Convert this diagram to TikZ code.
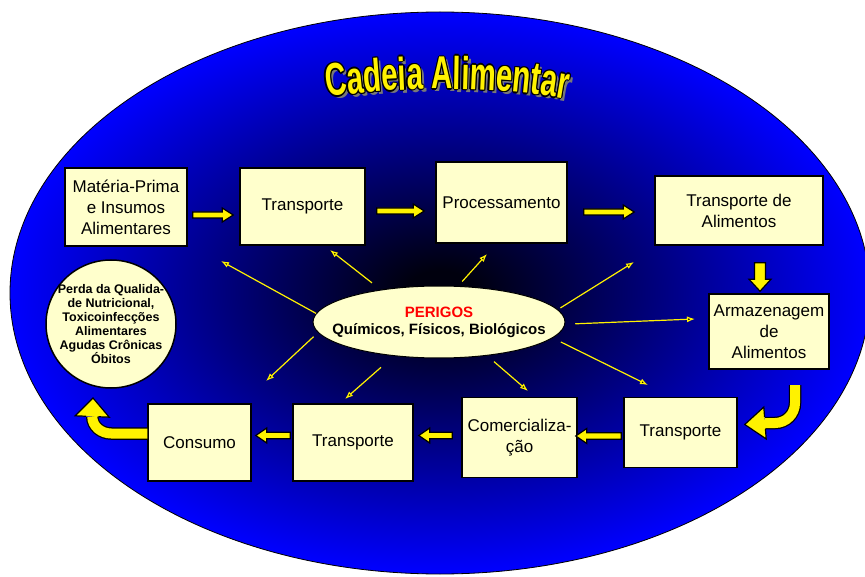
\documentclass[tikz,border=0pt]{standalone}
\usepackage{fontspec}
\setmainfont{Liberation Sans}
\newfontfamily\titlefont[FakeStretch=0.64]{Liberation Sans}
\usetikzlibrary{shapes.geometric}
\usetikzlibrary{arrows.meta,calc}
\usetikzlibrary{decorations.text}

\definecolor{cream}{RGB}{255,255,204}
\definecolor{navydark}{RGB}{0,0,14}
\definecolor{bowlblue}{RGB}{0,0,255}
\definecolor{shadowgray}{RGB}{120,120,120}
\pgfdeclareradialshading{bowl}{\pgfpoint{0bp}{0bp}}{color(0bp)=(navydark); color(2bp)=(navydark); color(25bp)=(bowlblue); color(50bp)=(bowlblue)}

% fat yellow arrow: tail, tip, half shaft, half head, head length
\newcommand\flowarrow[5]{%
  \coordinate (fa-base) at ($(#2)!#5!(#1)$);
  \filldraw [flowbody] ($(#1)!#3!90:(#2)$) -- ($(fa-base)!#3!90:(#2)$) -- ($(fa-base)!#4!90:(#2)$) -- (#2)
    -- ($(fa-base)!#4!-90:(#2)$) -- ($(fa-base)!#3!-90:(#2)$) -- ($(#1)!#3!-90:(#2)$) -- cycle;}
% head only, for the bent ones: base, tip, half shaft, half head
\newcommand\flowhead[4]{%
  \fill [yellow] ($(#1)!#3!90:(#2)$) -- ($(#1)!#4!90:(#2)$) -- (#2) -- ($(#1)!#4!-90:(#2)$) -- ($(#1)!#3!-90:(#2)$) -- cycle;
  \draw [black, line width=1.2pt, line join=miter] ($(#1)!#3!90:(#2)$) -- ($(#1)!#4!90:(#2)$) -- (#2) -- ($(#1)!#4!-90:(#2)$) -- ($(#1)!#3!-90:(#2)$);}

\begin{document}
\begin{tikzpicture}
[x=1pt,y=-1pt,
block/.style ={rectangle, draw=black, line width=1.5pt, fill=cream,
inner sep=2pt, align=center, font=\fontsize{17}{21}\selectfont},
hazardzone/.style ={ellipse, draw=black, line width=1pt, fill=cream,
inner xsep=-30pt, inner ysep=0pt, align=center,
minimum width=252pt, minimum height=72pt,
font=\bfseries\fontsize{15}{17}\selectfont},
losses/.style ={ellipse, draw=black, line width=1.5pt, fill=cream,
inner xsep=-10pt, inner ysep=0pt, align=center,
minimum width=130pt, minimum height=128pt,
font=\bfseries\fontsize{12.5}{14}\selectfont},
flowbody/.style ={fill=yellow, draw=black, line width=1.2pt, line join=miter},
flowedge/.style ={draw=yellow, line width=10pt,
preaction={draw=black, line width=12.5pt}},
hazardline/.style ={draw=yellow, line width=1.2pt,
-{Latex[length=8pt,width=6pt]}},
titletext/.style ={decorate, decoration={text along path, text align=center,
text color=#1,
text={|\titlefont\bfseries\fontsize{46}{46}\selectfont|Cadeia Alimentar}}}]
\useasboundingbox (0,0) rectangle (865,577);

% the bowl and the title
\shade [shading=bowl] (440,293) ellipse [x radius=430, y radius=281];
\draw [black, line width=0.8pt] (440,293) ellipse [x radius=430, y radius=281];
\path [titletext=shadowgray, shift={(3,3)}] (327,97) .. controls (400,86) and (495,86) .. (567,99);
\foreach \dx/\dy in {-1.3/0,1.3/0,0/-1.3,0/1.3,-0.9/-0.9,0.9/0.9,-0.9/0.9,0.9/-0.9}
  \path [titletext=black, shift={(\dx,\dy)}] (327,97) .. controls (400,86) and (495,86) .. (567,99);
\path [titletext=yellow] (327,97) .. controls (400,86) and (495,86) .. (567,99);

% top row
\node [block, minimum width=122pt, minimum height=78pt] (mp) at (126,207) {Matéria-Prima\\e Insumos\\Alimentares};
\node [block, minimum width=125pt, minimum height=77pt] (tr1) at (302.5,206.5) {Transporte};
\node [block, minimum width=131pt, minimum height=81pt] (proc) at (501.5,202.5) {Processamento};
\node [block, minimum width=168pt, minimum height=69pt] (tral) at (739,210.5) {Transporte de\\Alimentos};
% right side
\node [block, minimum width=120pt, minimum height=75pt] (arm) at (769,331.5) {Armazenagem\\de\\Alimentos};
% bottom row
\node [block, minimum width=113pt, minimum height=70pt] (tr2) at (680.5,432.5) {Transporte};
\node [block, minimum width=115pt, minimum height=80pt] (com) at (519.5,437.5) {Comercializa-\\ção};
\node [block, minimum width=120pt, minimum height=77pt] (tr3) at (353,442.5) {Transporte};
\node [block, minimum width=103pt, minimum height=77pt] (cons) at (199.5,442.5) {Consumo};
% middle
\node [losses] (loss) at (111,324) {Perda da Qualida-\\de Nutricional,\\Toxicoinfecções\\Alimentares\\Agudas Crônicas\\Óbitos};
\node [hazardzone] (perigos) at (439,322) {\textcolor{red}{PERIGOS}\\Químicos, Físicos, Biológicos};

% the chain
\coordinate (a1s) at ([xshift=5pt,yshift=-8pt]mp.east);
\coordinate (a1e) at ([xshift=-6pt]a1s -| tr1.west);
\coordinate (a2s) at ([xshift=11pt,yshift=-4.5pt]tr1.east);
\coordinate (a2e) at ([xshift=-11pt]a2s -| proc.west);
\coordinate (a3s) at ([xshift=16pt,yshift=-9.5pt]proc.east);
\coordinate (a3e) at ([xshift=-20pt]a3s -| tral.west);
\coordinate (a4s) at ([xshift=21pt,yshift=-17pt]tral.south);
\coordinate (a4e) at ([yshift=2pt]a4s |- arm.north);
\coordinate (a5s) at ([xshift=-2pt,yshift=-3.5pt]tr2.west);
\coordinate (a5e) at ([xshift=-2pt]a5s -| com.east);
\coordinate (a6s) at ([xshift=-9pt,yshift=2pt]com.west);
\coordinate (a6e) at ([xshift=5pt]a6s -| tr3.east);
\coordinate (a7s) at ([xshift=-2pt,yshift=7pt]tr3.west);
\coordinate (a7e) at ([xshift=4pt]a7s -| cons.east);
\flowarrow{a1s}{a1e}{3pt}{7pt}{11pt}
\flowarrow{a2s}{a2e}{3pt}{7pt}{11pt}
\flowarrow{a3s}{a3e}{3pt}{7pt}{11pt}
\flowarrow{a4s}{a4e}{5.5pt}{11pt}{12pt}
\flowarrow{a5s}{a5e}{3.2pt}{7.5pt}{11pt}
\flowarrow{a6s}{a6e}{3.2pt}{7.5pt}{11pt}
\flowarrow{a7s}{a7e}{3.2pt}{7.5pt}{11pt}

% bent arrows
\coordinate (turnA) at (795,385);
\coordinate (turnAtip) at ([xshift=7pt,yshift=8pt]tr2.east);
\path [flowedge] (turnA) -- ++(0,18) to [out=-90,in=0] ++(-20,20) -- ++(-10,0) coordinate (turnAbase);
\flowhead{turnAbase}{turnAtip}{6.2pt}{16pt}
\coordinate (turnB) at (93,398);
\path [flowedge] ([yshift=9pt]cons.west) -- ++(-36,0) to [out=180,in=-90] ++(-19,-17) coordinate (turnBbase);
\flowhead{turnBbase}{turnB}{6.2pt}{17pt}

% hazards
\coordinate (h1) at (221,261);
\coordinate (h2) at (330,250);
\coordinate (h3) at (487,254);
\coordinate (h4) at (634,262);
\coordinate (h5) at (695,319);
\coordinate (h6) at (648,385);
\coordinate (h7) at (528,391);
\coordinate (h8) at (345,399);
\coordinate (h9) at (266,381);
\path [hazardline] (perigos.176) -- (h1);
\path [hazardline, shorten <=11pt] (perigos.151) -- (h2);
\path [hazardline, shorten <=6pt] (perigos.62) -- (h3);
\path [hazardline, shorten <=3pt] (perigos.6) -- (h4);
\path [hazardline, shorten <=10pt] (perigos.-1) -- (h5);
\path [hazardline, shorten <=9pt] (perigos.-8) -- (h6);
\path [hazardline, shorten <=9pt] (perigos.-35) -- (h7);
\path [hazardline, shorten <=17pt] (perigos.217) -- (h8);
\path [hazardline, shorten <=6pt] (perigos.185) -- (h9);
\end{tikzpicture}
\end{document}
